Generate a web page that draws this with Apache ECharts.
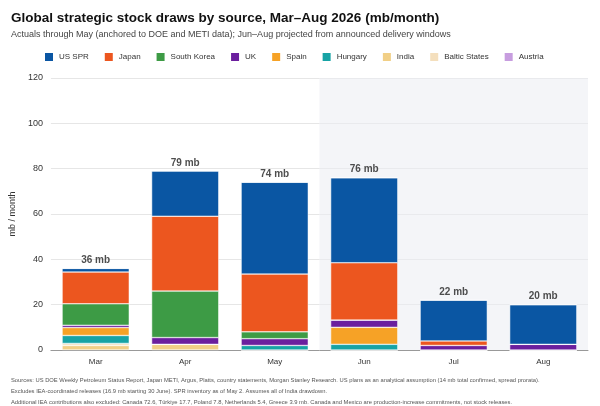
<!DOCTYPE html>
<html><head><meta charset="utf-8">
<script src="https://cdn.jsdelivr.net/npm/echarts@6/dist/echarts.min.js"></script>
<style>body{margin:0}#c{width:600px;height:406px}</style></head>
<body><div id="c"></div>
<script>
const months=['Mar','Apr','May','Jun','Jul','Aug'];
const usSpr=[1.6,20,40.5,37.5,18,17.5];
const japan=[14,33,25.5,25.3,2,0];
const southKorea=[9.5,20.5,3,0,0,0];
const uk=[1,3,3,3.2,2,2.5];
const spain=[3.5,0,0,7.5,0,0];
const hungary=[3.5,0,2,2.5,0,0];
const india=[2,2.5,0,0,0,0];
const baltic=[0.9,0,0,0,0,0];
const austria=[0,0,0,0,0,0];
const totals=[36,79,74,76,22,20];
const seriesDefs=[
 ['US SPR',usSpr,'#0a56a3'],['Japan',japan,'#ec561f'],['South Korea',southKorea,'#3d9b45'],
 ['UK',uk,'#6b1f9e'],['Spain',spain,'#f6a226'],['Hungary',hungary,'#17a3a5'],
 ['India',india,'#f1cf86'],['Baltic States',baltic,'#f4dfbd'],['Austria',austria,'#c79ddf']];
const order=['India','Baltic States','Hungary','Spain','UK','South Korea','Japan','US SPR','Austria'];
const series=order.map(n=>{const d=seriesDefs.find(s=>s[0]===n);return {name:n,type:'bar',stack:'s',data:d[1],barWidth:'75%',itemStyle:{color:d[2],borderColor:'#fff',borderWidth:0.5}};});
series.push({type:'scatter',data:totals,symbolSize:0,silent:true,z:10,label:{show:true,position:'top',distance:3,formatter:p=>p.value+' mb',fontWeight:'bold',fontSize:10,color:'#222'}});
series.push({type:'line',xAxisIndex:1,data:[],markArea:{silent:true,itemStyle:{color:'rgba(235,237,242,0.55)'},label:{show:true,position:'insideTopRight',distance:[12,10],color:'#666',fontSize:10,formatter:'Forecast'},data:[[{xAxis:2.5},{xAxis:5.5}]]}});
const chart=echarts.init(document.getElementById('c'));
chart.setOption({
 animation:false,
 title:[{text:'Global strategic stock draws by source, Mar\u2013Aug 2026 (mb/month)',left:6,top:6,textStyle:{fontSize:13.5,fontWeight:'bold',color:'#111'}},
  {text:'Actuals through May (anchored to DOE and METI data); Jun\u2013Aug projected from announced delivery windows',left:6,top:25,textStyle:{fontSize:9,fontWeight:'normal',color:'#444'}},
  {text:'Sources: US DOE Weekly Petroleum Status Report, Japan METI, Argus, Platts, country statements, Morgan Stanley Research. US plans as an analytical assumption (14 mb total confirmed, spread prorata).\nExcludes IEA-coordinated releases (16.9 mb starting 30 June). SPR inventory as of May 2. Assumes all of India drawdown.\nAdditional IEA contributions also excluded: Canada 72.6, Türkiye 17.7, Poland 7.8, Netherlands 5.4, Greece 3.9 mb. Canada and Mexico are production-increase commitments, not stock releases.',left:6,top:370,textStyle:{fontSize:5.8,fontWeight:'normal',color:'#555',lineHeight:11}}],
 legend:{data:seriesDefs.map(s=>s[0]),left:38,top:46,itemWidth:10,itemHeight:10,itemGap:14,icon:'rect',textStyle:{fontSize:8,color:'#333'}},
 grid:{left:48,right:12,top:78,bottom:56},
 xAxis:[{type:'category',data:months,axisTick:{show:false},axisLine:{lineStyle:{color:'#999'}},axisLabel:{fontSize:8,color:'#333'}},
  {type:'value',min:-0.5,max:5.5,show:false}],
 yAxis:{type:'value',min:0,max:120,interval:20,name:'mb / month',nameLocation:'middle',nameGap:28,nameTextStyle:{fontSize:9,color:'#333'},axisLine:{show:false},axisTick:{show:false},axisLabel:{fontSize:9,color:'#333'},splitLine:{lineStyle:{color:'#e6e6e6'}}},
 series
});
</script></body></html>
